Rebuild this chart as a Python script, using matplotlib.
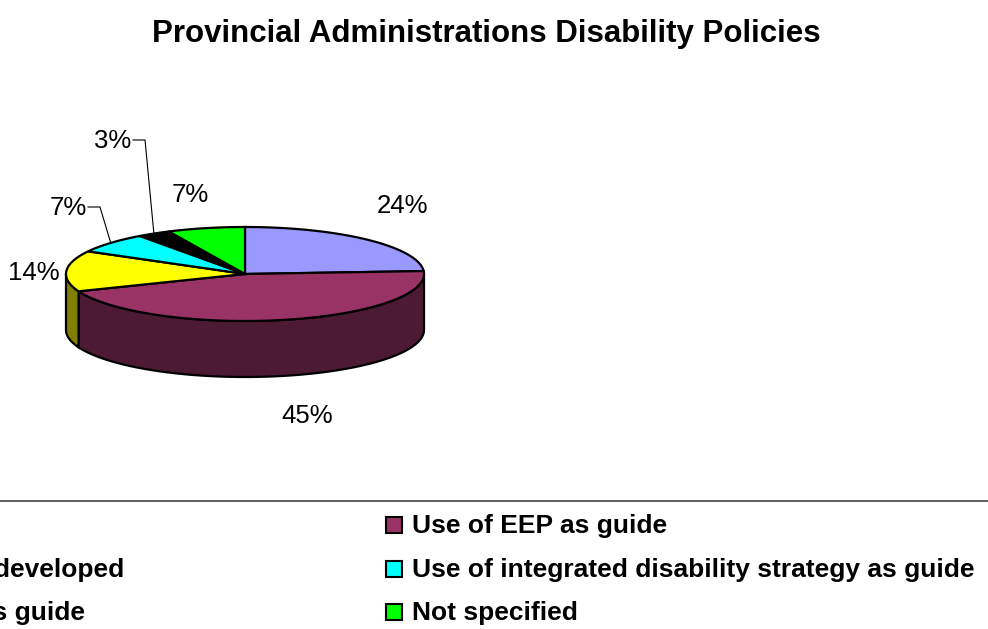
import numpy as np
import matplotlib.pyplot as plt
from matplotlib.patches import Polygon, Rectangle
from matplotlib.colors import to_rgb

# policy categories, in slice order (clockwise from 12 o'clock)
categories = [
    "Policy in place",
    "Use of EEP as guide",
    "Policy being developed",
    "Use of integrated disability strategy as guide",
    "Use of PSR as guide",
    "Not specified",
]
shares = [24, 45, 14, 7, 3, 7]
colors = ["#9999FF", "#993366", "#FFFF00", "#00FFFF", "#000000", "#00FF00"]

# pie geometry (pixel units)
cx, cy = 245, 274
rx, ry = 179, 47
depth = 56

# percentage label anchors: (x centre, baseline)
label_pos = [(402, 213), (307, 423), (34, 280), (68, 215), (113, 148), (190, 202)]
# slices whose labels get a leader line: index -> elbow x
leaders = {3: (88, 100), 4: (133, 145)}


def rim(a0, a1, n=80):
    t = np.radians(np.linspace(a0, a1, n))
    return cx + rx * np.sin(t), cy - ry * np.cos(t)


def shade(c, f=0.5):
    r, g, b = to_rgb(c)
    return (r * f, g * f, b * f)


fig = plt.figure(figsize=(9.88, 6.29), dpi=100)
ax = fig.add_axes([0, 0, 1, 1])
ax.set_xlim(0, 988)
ax.set_ylim(629, 0)
ax.axis("off")

ends = np.cumsum(shares) / sum(shares) * 360
starts = np.concatenate([[0], ends[:-1]])

# front walls, only the part facing the viewer (90..270 deg)
for a0, a1, c in zip(starts, ends, colors):
    lo, hi = max(a0, 90), min(a1, 270)
    if lo >= hi:
        continue
    x, y = rim(lo, hi)
    px = np.concatenate([x, x[::-1]])
    py = np.concatenate([y, (y + depth)[::-1]])
    ax.add_patch(Polygon(np.column_stack([px, py]), closed=True,
                         facecolor=shade(c), edgecolor="black", lw=1.6, zorder=2))

# top faces
for a0, a1, c in zip(starts, ends, colors):
    x, y = rim(a0, a1)
    px = np.concatenate([[cx], x])
    py = np.concatenate([[cy], y])
    ax.add_patch(Polygon(np.column_stack([px, py]), closed=True,
                         facecolor=c, edgecolor="black", lw=1.6, zorder=3))

# percentage labels
for i, (v, (lx, ly)) in enumerate(zip(shares, label_pos)):
    ax.text(lx, ly, f"{v}%", ha="center", va="baseline", fontsize=18.5,
            family="Liberation Sans", color="black")

for i, (x0, x1) in leaders.items():
    mid = (starts[i] + ends[i]) / 2
    ex, ey = rim(mid, mid, 1)
    yl = label_pos[i][1] - 8
    ax.plot([x0, x1, ex[0]], [yl, yl, ey[0]], color="black", lw=0.8, zorder=4)

ax.text(486, 42, "Provincial Administrations Disability Policies", ha="center",
        va="baseline", fontsize=22.5, fontweight="bold", family="Liberation Sans")

# legend frame top edge
ax.plot([0, 988], [501, 501], color="#444444", lw=1.2)

# legend, two columns filled row by row
row_base = [533, 577, 620]
right_x = 386
left_end = [-20, 124, 85]
box = 16
fs = 19
for k, (name, c) in enumerate(zip(categories, colors)):
    row = k // 2
    yb = row_base[row]
    if k % 2 == 1:
        ax.add_patch(Rectangle((right_x, yb - 16), box, box, facecolor=c,
                               edgecolor="black", lw=1.5, zorder=3))
        ax.text(right_x + 26, yb, name, ha="left", va="baseline", fontsize=fs,
                fontweight="bold", family="Liberation Sans")
    else:
        t = ax.text(left_end[row], yb, name, ha="right", va="baseline",
                    fontsize=fs, fontweight="bold", family="Liberation Sans")
        w = t.get_window_extent(renderer=fig.canvas.get_renderer()).width
        ax.add_patch(Rectangle((left_end[row] - w - 26, yb - 16), box, box,
                               facecolor=c, edgecolor="black", lw=1.5, zorder=3))

fig.savefig("out.png", dpi=100)
